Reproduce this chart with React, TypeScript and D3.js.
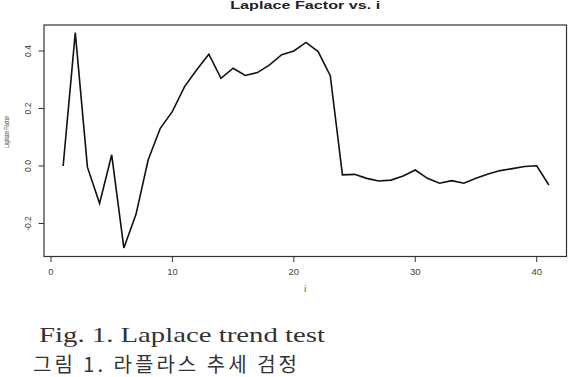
import React from "react";
import * as d3 from "d3";

const indices: number[] = d3.range(1, 42);
const laplace: number[] = [
  0, 0.464, -0.004, -0.13, 0.039, -0.285, -0.168, 0.021, 0.131, 0.19, 0.276,
  0.335, 0.389, 0.305, 0.34, 0.315, 0.325, 0.352, 0.387, 0.4, 0.43, 0.398,
  0.314, -0.031, -0.029, -0.043, -0.052, -0.049, -0.035, -0.014, -0.043,
  -0.06, -0.051, -0.06, -0.043, -0.028, -0.016, -0.009, -0.002, 0.001, -0.066,
];
const xTicks: number[] = [0, 10, 20, 30, 40];
const yTicks: number[] = [-0.2, 0.0, 0.2, 0.4];
const yTickLabels: string[] = ["-0.2", "0.0", "0.2", "0.4"];
const title = "Laplace Factor vs. i";
const xLabel = "i";
const yLabel = "Laplace Factor";
const captionEn = "Fig. 1. Laplace trend test";
const captionKo = "그림 1. 라플라스 추세 검정";

export default function App() {
  const W = 568;
  const H = 377;
  const box = { left: 44, right: 566.5, top: 25, bottom: 256.5 };
  const x = d3.scaleLinear().domain([0, 40]).range([51, 536.7]);
  const y = d3.scaleLinear().domain([0, 0.4]).range([166, 51]);
  const line = d3
    .line<number>()
    .x((_, i) => x(indices[i]))
    .y((d) => y(d));
  const sans = "'Liberation Sans', Arial, Helvetica, sans-serif";
  return (
    <svg
      width={W}
      height={H}
      style={{ position: "absolute", left: 0, top: 0, background: "#fff" }}
    >
      <text
        x={(box.left + box.right) / 2}
        y={9}
        textAnchor="middle"
        fontFamily={sans}
        fontWeight="bold"
        fontSize={11}
        textLength={150}
        lengthAdjust="spacingAndGlyphs"
        fill="#222"
      >
        {title}
      </text>
      <rect
        x={box.left}
        y={box.top}
        width={box.right - box.left}
        height={box.bottom - box.top}
        fill="none"
        stroke="#333"
        strokeWidth={1.2}
      />
      <line
        x1={x(0)}
        x2={x(40)}
        y1={box.bottom}
        y2={box.bottom}
        stroke="#333"
        strokeWidth={1.2}
      />
      {xTicks.map((t) => (
        <g key={"x" + t}>
          <line
            x1={x(t)}
            x2={x(t)}
            y1={box.bottom}
            y2={box.bottom + 5.5}
            stroke="#333"
            strokeWidth={1}
          />
          <text
            x={x(t)}
            y={275}
            textAnchor="middle"
            fontFamily={sans}
            fontSize={9.5}
            fill="#444"
          >
            {t}
          </text>
        </g>
      ))}
      {yTicks.map((t, i) => (
        <g key={"y" + t}>
          <line
            x1={box.left - 5.5}
            x2={box.left}
            y1={y(t)}
            y2={y(t)}
            stroke="#333"
            strokeWidth={1}
          />
          <text
            transform={`translate(31,${y(t)}) rotate(-90)`}
            textAnchor="middle"
            fontFamily={sans}
            fontSize={8.5}
            fill="#444"
          >
            {yTickLabels[i]}
          </text>
        </g>
      ))}
      <text
        x={(box.left + box.right) / 2}
        y={291.5}
        textAnchor="middle"
        fontFamily={sans}
        fontSize={8.5}
        fill="#444"
      >
        {xLabel}
      </text>
      <text
        transform={`translate(8.5,132) rotate(-90)`}
        textAnchor="middle"
        fontFamily={sans}
        fontSize={8}
        textLength={32}
        lengthAdjust="spacingAndGlyphs"
        fill="#444"
      >
        {yLabel}
      </text>
      <path
        d={line(laplace) || ""}
        fill="none"
        stroke="#111"
        strokeWidth={1.6}
        strokeLinejoin="miter"
      />
      <text
        x={39}
        y={341.5}
        fontFamily="'Liberation Serif', 'DejaVu Serif', serif"
        fontSize={22}
        textLength={286}
        lengthAdjust="spacingAndGlyphs"
        fill="#333"
      >
        {captionEn}
      </text>
      <text
        x={33}
        y={372}
        fontFamily="'Noto Sans CJK KR', sans-serif"
        fontSize={20}
        textLength={264}
        lengthAdjust="spacing"
        fill="#333"
      >
        {captionKo}
      </text>
    </svg>
  );
}
